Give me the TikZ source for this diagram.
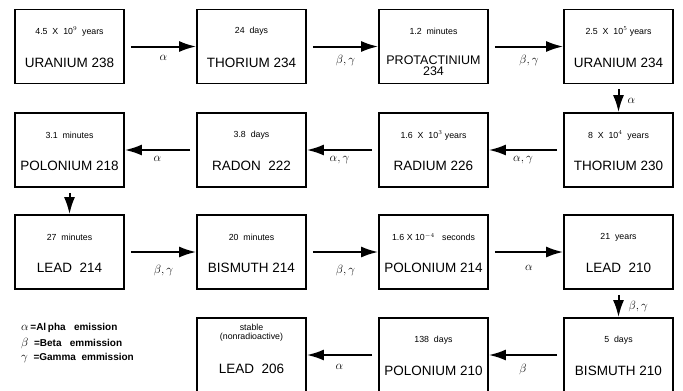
\documentclass[tikz,border=0pt]{standalone}
\usepackage{fontspec}
\setmainfont{Liberation Sans}
\usetikzlibrary{arrows.meta,positioning}

\begin{document}
\begin{tikzpicture}[x=1pt, y=-1pt, line join=miter,
    isobox/.style={draw, line width=1.7pt, minimum width=109pt, minimum height=74pt, inner sep=0pt},
    halflife/.style={font=\fontsize{8.8}{9}\selectfont, align=center},
    element/.style={font=\fontsize{13.5}{14}\selectfont, align=center},
    decay/.style={-{Latex[length=17pt,width=11pt]}, line width=2pt},
    emits/.style={font=\fontsize{13}{13}\selectfont, inner sep=1pt},
    legend/.style={font=\bfseries\fontsize{10}{11}\selectfont, anchor=west, inner sep=0pt}]

    % --- Page frame ---
    \useasboundingbox (0,0) rectangle (683,391);

    % --- Boxes of the decay chain ---
    \foreach \n/\x/\y in {
        u238/69.5/46.5, th234/251.5/46.5, pa234/433.5/46.5, u234/618.5/46.5,
        po218/69.5/150, rn222/251.5/150, ra226/433.5/150, th230/618.5/150,
        pb214/69.5/252, bi214/251.5/252, po214/433.5/252, pb210/618.5/252,
        pb206/251.5/355, po210/433.5/355, bi210/618.5/355%
    } {%
        \node[isobox] (\n) at (\x,\y) {};%
    }

    % --- Half-lives and element names ---
    \foreach \n/\h/\e in {
        u238/{4.5~~X~~10$^{9}$~~years}/{URANIUM 238},
        th234/{24~~days}/{THORIUM 234},
        u234/{2.5~~X~~10$^{5}$~years}/{URANIUM 234},
        po218/{3.1~~minutes}/{POLONIUM 218},
        rn222/{3.8~~days}/{RADON~~222},
        ra226/{1.6~~X~~10$^{3}$~years}/{RADIUM 226},
        th230/{8~~X~~10$^{4}$~~years}/{THORIUM 230},
        pb214/{27~~minutes}/{LEAD~~214},
        bi214/{20~~minutes}/{BISMUTH 214},
        po214/{1.6~X~10$^{-4}$~~~seconds}/{POLONIUM 214},
        pb210/{21~~years}/{LEAD~~210},
        po210/{138~~days}/{POLONIUM 210},
        bi210/{5~~days}/{BISMUTH 210}%
    } {%
        \node[halflife] (\n-h) at ([yshift=-23pt]\n.north) {\h};%
        \node[element] (\n-e) at ([yshift=-54pt]\n.north) {\e};%
    }

    % two boxes with their own layout
    \node[halflife] (pa234-h) at ([yshift=-23pt]pa234.north) {1.2~~minutes};
    \node[element, font=\fontsize{12.5}{11.5}\selectfont] (pa234-e) at ([yshift=-57pt]pa234.north) {PROTACTINIUM\\234};
    \node[halflife] (pb206-h) at ([yshift=-16pt]pb206.north) {stable\\(nonradioactive)};
    \node[element] (pb206-e) at ([yshift=-52pt]pb206.north) {LEAD~~206};

    % --- Decays, left to right and back ---
    \draw[decay] ([xshift=6pt]u238.east) -- (th234.west) node[emits, midway, below=7pt] {$\alpha$};
    \draw[decay] ([xshift=6pt]th234.east) -- (pa234.west) node[emits, midway, below=7pt] {$\beta,\gamma$};
    \draw[decay] ([xshift=6pt]pa234.east) -- (u234.west) node[emits, midway, below=7pt] {$\beta,\gamma$};
    \draw[decay] ([yshift=-5pt]u234.south) -- (th230.north) node[emits, midway, right=7pt] {$\alpha$};

    \draw[decay] ([xshift=-6pt]th230.west) -- (ra226.east) node[emits, midway, below=4pt] {$\alpha,\gamma$};
    \draw[decay] ([xshift=-6pt]ra226.west) -- (rn222.east) node[emits, midway, below=4pt] {$\alpha,\gamma$};
    \draw[decay] ([xshift=-6pt]rn222.west) -- (po218.east) node[emits, midway, below=4pt] {$\alpha$};
    \draw[decay] ([yshift=-5pt]po218.south) -- (pb214.north);

    \draw[decay] ([xshift=6pt]pb214.east) -- (bi214.west) node[emits, midway, below=11pt] {$\beta,\gamma$};
    \draw[decay] ([xshift=6pt]bi214.east) -- (po214.west) node[emits, midway, below=11pt] {$\beta,\gamma$};
    \draw[decay] ([xshift=6pt]po214.east) -- (pb210.west) node[emits, midway, below=11pt] {$\alpha$};
    \draw[decay] ([yshift=-5pt]pb210.south) -- (bi210.north) node[emits, midway, right=8pt] {$\beta,\gamma$};

    \draw[decay] ([xshift=-6pt]bi210.west) -- (po210.east) node[emits, midway, below=7pt] {$\beta$};
    \draw[decay] ([xshift=-6pt]po210.west) -- (pb206.east) node[emits, midway, below=7pt] {$\alpha$};

    % --- Legend ---
    \node[legend] (lalpha) at (21,328) {\large$\alpha$\normalsize\,=Al\,pha~~~emission};
    \node[legend] (lbeta) at (21,343) {\large$\beta$\normalsize~~=Beta~~~emmission};
    \node[legend] (lgamma) at (21,358) {\large$\gamma$\normalsize~~=Gamma~~emmission};

\end{tikzpicture}
\end{document}
